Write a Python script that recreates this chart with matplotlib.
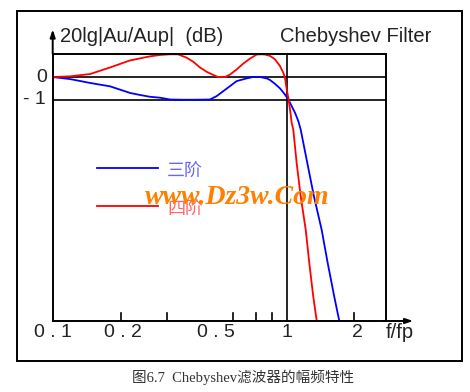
import numpy as np
import matplotlib
matplotlib.use('Agg')
import matplotlib.pyplot as plt

plt.rcParams['font.family'] = ['Liberation Sans', 'Noto Sans CJK SC', 'DejaVu Sans']

# curve samples (f/fp, level on the chart's scale)
f3 = [0.1, 0.1186, 0.1443, 0.1758, 0.2139, 0.236, 0.2605, 0.2874, 0.317, 0.3603,
      0.4055, 0.470, 0.502, 0.536, 0.5726, 0.611, 0.6746, 0.718, 0.769, 0.821,
      0.8484, 0.891, 0.936, 0.983, 1.016, 1.05, 1.085, 1.121, 1.148, 1.225,
      1.308, 1.411, 1.497, 1.597, 1.678]
y3 = [0, -0.09, -0.26, -0.41, -0.70, -0.79, -0.87, -0.91, -0.99, -1.0,
      -1.0, -0.99, -0.84, -0.62, -0.40, -0.18, -0.06, 0, 0, -0.06,
      -0.13, -0.30, -0.50, -0.77, -0.99, -1.28, -1.57, -1.94, -2.32, -3.79,
      -5.26, -6.73, -8.19, -9.67, -10.74]

f4 = [0.1, 0.1186, 0.1443, 0.1758, 0.2139, 0.236, 0.2605, 0.2874, 0.317, 0.343,
      0.3737, 0.399, 0.426, 0.455, 0.486, 0.5085, 0.545, 0.5726, 0.611, 0.652,
      0.6968, 0.7445, 0.78, 0.808, 0.8484, 0.891, 0.936, 0.967, 0.983, 0.993,
      1.003, 1.016, 1.026, 1.040, 1.05, 1.067, 1.103, 1.148, 1.206, 1.249,
      1.299, 1.344]
y4 = [0, 0.03, 0.13, 0.42, 0.73, 0.82, 0.91, 0.97, 1.0, 1.0,
      0.85, 0.67, 0.42, 0.23, 0.09, 0, 0, 0.11, 0.33, 0.59,
      0.81, 0.99, 1.0, 0.99, 0.93, 0.78, 0.48, 0.19, -0.03, -0.33,
      -0.62, -0.91, -1.21, -1.65, -2.01, -2.32, -3.79, -5.26, -6.73, -8.19,
      -9.67, -10.74]

tick_pos = [0.195, 0.307, 0.59, 0.739, 0.863, 1.94]
label_pos = [0.1, 0.2, 0.5, 1, 2]
label_txt = ['0 . 1', '0 . 2', '0 . 5', '1', '2']

fig = plt.figure(figsize=(4.7, 3.92), dpi=100)
W, H = 470, 392

# outer frame
fig.patches.append(plt.Rectangle((17 / W, 1 - 361 / H), 445 / W, 350 / H,
                                 transform=fig.transFigure, fill=False,
                                 edgecolor='black', lw=1.4))

ax = fig.add_axes([52.7 / W, 1 - 321 / H, 333 / W, 266.7 / H])
ax.set_xscale('log')
ax.set_xlim(0.1, 2.649)
ax.set_ylim(-10.74, 1.0)
for s in ax.spines.values():
    s.set_linewidth(1.4)
ax.set_xticks([])
ax.set_yticks([])
ax.minorticks_off()
ax.tick_params(which='both', length=0)

ax.axhline(0, color='black', lw=1.2)
ax.axhline(-1, color='black', lw=1.2)
ax.axvline(1, color='black', lw=1.2)

ax.plot(f3, y3, color='#0000ff', lw=1.3)
ax.plot(f4, y4, color='#ff0000', lw=1.3)

# short inward ticks on the f axis
for t in tick_pos:
    ax.plot([t, t], [0, 0.03], color='black', lw=1.2, transform=ax.get_xaxis_transform())

tr = ax.get_xaxis_transform()
for p, t in zip(label_pos, label_txt):
    ax.text(p, -0.042, t, transform=tr, ha='center', va='center', fontsize=14, color='#222222')

ytr = ax.get_yaxis_transform()
ax.text(-0.017, 0, '0', transform=ytr, ha='right', va='center', fontsize=14, color='#222222')
ax.text(-0.022, -1, '- 1', transform=ytr, ha='right', va='center', fontsize=14, color='#222222')

# axis arrows
ax.annotate('', xy=(0.1, 2.22), xytext=(0.1, 0.9), annotation_clip=False,
            arrowprops=dict(arrowstyle='-|>,head_length=0.45,head_width=0.15', lw=1.4, color='black'))
ax.annotate('', xy=(3.57, -10.74), xytext=(2.5, -10.74), annotation_clip=False,
            arrowprops=dict(arrowstyle='-|>,head_length=0.45,head_width=0.15', lw=1.4, color='black'))

fig.text(60 / W, 1 - 36 / H, '20lg|Au/Aup|  (dB)', ha='left', va='center', fontsize=14.5, color='#222222')
fig.text(280 / W, 1 - 36 / H, 'Chebyshev Filter', ha='left', va='center', fontsize=14.5, color='#222222')
fig.text(400 / W, 1 - 333 / H, 'f/fp', ha='center', va='center', fontsize=14.5, color='#222222')

# legend
ax.plot([0.133, 0.316], [0.5726, 0.5726], color='#0000ff', lw=1.3, transform=ax.transAxes)
ax.plot([0.133, 0.316], [0.4312, 0.4312], color='#ff0000', lw=1.3, transform=ax.transAxes)
ax.text(0.343, 0.5598, '三阶', transform=ax.transAxes, ha='left', va='center', fontsize=13,
        color='#6666ff', family=['Noto Sans CJK SC'])
ax.text(0.343, 0.416, '四阶', transform=ax.transAxes, ha='left', va='center', fontsize=13,
        color='#ff6666', family=['Noto Sans CJK SC'])

# watermark
fig.text(237 / W, 1 - 198 / H, 'www.Dz3w.Com', ha='center', va='center', fontsize=20,
         color='#ff8000', family=['Liberation Serif'], fontweight='bold', fontstyle='italic')

fig.text(243 / W, 1 - 377 / H, '图6.7  Chebyshev滤波器的幅频特性', ha='center', va='center',
         fontsize=10.5, color='#333333', family=['Liberation Serif', 'Noto Sans CJK SC'])

fig.savefig('out.png', dpi=100)
